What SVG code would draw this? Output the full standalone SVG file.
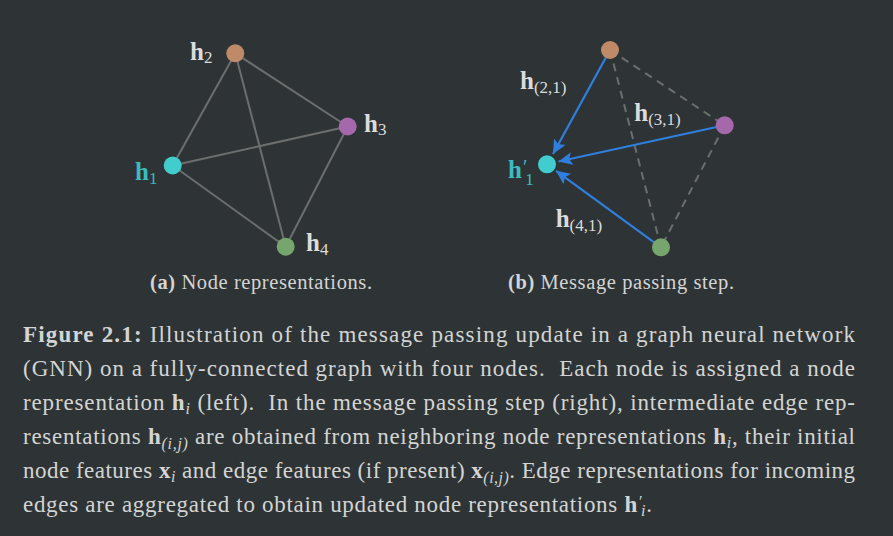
<svg xmlns="http://www.w3.org/2000/svg" width="893" height="536" viewBox="0 0 893 536">
<defs>
<style>
.bg{fill:#2e3435}
.edge{stroke:#6c6e6e;stroke-width:2;fill:none}
.dash{stroke:#6c6e6e;stroke-width:2;fill:none;stroke-dasharray:8 6}
.arrow{stroke:#2f7fdf;stroke-width:2.2;fill:none;marker-end:url(#ah)}
.lbl{font-family:"Liberation Serif",serif;fill:#dcdcdc}
.hb{font-weight:bold;font-size:25px}
.sub{font-size:17px}
.pr{font-size:20px}
.teal{fill:#3cbcbf}
.cap{font-family:"Liberation Serif",serif;font-size:23px;fill:#d4d4d4;white-space:pre}
.sc{font-family:"Liberation Serif",serif;font-size:20.5px;fill:#d4d4d4}
.b{font-weight:bold}
.i{font-style:italic;font-size:16px}
.n1{fill:#41cccd}.n2{fill:#be8a68}.n3{fill:#a468ab}.n4{fill:#76a56e}
</style>
<marker id="ah" markerUnits="userSpaceOnUse" markerWidth="16" markerHeight="14" refX="14" refY="6.5" orient="auto">
<path d="M0,0 L14,6.5 L0,13 L3,6.5 Z" fill="#2f7fdf"/>
</marker>
</defs>
<rect class="bg" x="0" y="0" width="893" height="536"/>

<g id="connectors">
<line class="edge" x1="172.7" y1="165.5" x2="235.3" y2="53.3"/>
<line class="edge" x1="172.7" y1="165.5" x2="347.7" y2="126.5"/>
<line class="edge" x1="172.7" y1="165.5" x2="285.7" y2="246.7"/>
<line class="edge" x1="235.3" y1="53.3" x2="347.7" y2="126.5"/>
<line class="edge" x1="235.3" y1="53.3" x2="285.7" y2="246.7"/>
<line class="edge" x1="347.7" y1="126.5" x2="285.7" y2="246.7"/>

<line class="dash" x1="610" y1="50" x2="724.7" y2="125.3"/>
<line class="dash" x1="610" y1="50" x2="661" y2="247.3"/>
<line class="dash" x1="724.7" y1="125.3" x2="661" y2="247.3"/>
<line class="arrow" x1="610" y1="50" x2="553" y2="154"/>
<line class="arrow" x1="724.7" y1="125.3" x2="558.5" y2="161.5"/>
<line class="arrow" x1="661" y1="247.3" x2="556" y2="170.8"/>
</g>

<g id="a-h1"><circle class="n1" cx="172.7" cy="165.5" r="9"/>
<text class="lbl teal" x="135" y="180"><tspan class="hb">h</tspan><tspan class="sub" dy="4">1</tspan></text></g>
<g id="a-h2"><circle class="n2" cx="235.3" cy="53.3" r="9"/>
<text class="lbl" x="190" y="59.5"><tspan class="hb">h</tspan><tspan class="sub" dy="3.5">2</tspan></text></g>
<g id="a-h3"><circle class="n3" cx="347.7" cy="126.5" r="9"/>
<text class="lbl" x="364" y="131.5"><tspan class="hb">h</tspan><tspan class="sub" dy="3.5">3</tspan></text></g>
<g id="a-h4"><circle class="n4" cx="285.7" cy="246.7" r="9"/>
<text class="lbl" x="306" y="251"><tspan class="hb">h</tspan><tspan class="sub" dy="3.5">4</tspan></text></g>

<g id="b-h1"><circle class="n1" cx="547" cy="164.3" r="9"/>
<text class="lbl teal" x="508" y="178"><tspan class="hb">h</tspan><tspan class="pr" dx="1" dy="-4">′</tspan><tspan class="sub" dx="-2" dy="11">1</tspan></text></g>
<g id="b-h2"><circle class="n2" cx="610" cy="50" r="9"/></g>
<g id="b-h3"><circle class="n3" cx="724.7" cy="125.3" r="9"/></g>
<g id="b-h4"><circle class="n4" cx="661" cy="247.3" r="9"/></g>

<g id="edge-labels">
<text class="lbl" x="520" y="88.5"><tspan class="hb">h</tspan><tspan class="sub" dy="4">(2,1)</tspan></text>
<text class="lbl" x="634.3" y="120.5"><tspan class="hb">h</tspan><tspan class="sub" dy="4">(3,1)</tspan></text>
<text class="lbl" x="555.7" y="227"><tspan class="hb">h</tspan><tspan class="sub" dy="4">(4,1)</tspan></text>
</g>

<g id="subcaptions">
<text class="sc" x="150" y="289" textLength="222"><tspan class="b">(a)</tspan> Node representations.</text>
<text class="sc" x="508" y="289" textLength="226"><tspan class="b">(b)</tspan> Message passing step.</text>
</g>

<g id="caption">
<text class="cap" x="23" y="342" textLength="832" lengthAdjust="spacing"><tspan class="b">Figure 2.1:</tspan> Illustration of the message passing update in a graph neural network</text>
<text class="cap" x="23" y="376" textLength="832" lengthAdjust="spacing">(GNN) on a fully-connected graph with four nodes.  Each node is assigned a node</text>
<text class="cap" x="23" y="410" textLength="832" lengthAdjust="spacing">representation <tspan class="b">h</tspan><tspan class="i" dy="4">i</tspan><tspan dy="-4"> (left).  In the message passing step (right), intermediate edge rep-</tspan></text>
<text class="cap" x="23" y="444" textLength="832" lengthAdjust="spacing">resentations <tspan class="b">h</tspan><tspan class="i" dy="5">(i,j)</tspan><tspan dy="-5"> are obtained from neighboring node representations </tspan><tspan class="b">h</tspan><tspan class="i" dy="4">i</tspan><tspan dy="-4">, their initial</tspan></text>
<text class="cap" x="23" y="478" textLength="832" lengthAdjust="spacing">node features <tspan class="b">x</tspan><tspan class="i" dy="4">i</tspan><tspan dy="-4"> and edge features (if present) </tspan><tspan class="b">x</tspan><tspan class="i" dy="5">(i,j)</tspan><tspan dy="-5">. Edge representations for incoming</tspan></text>
<text class="cap" x="23" y="512" textLength="629" lengthAdjust="spacing">edges are aggregated to obtain updated node representations <tspan class="b">h</tspan><tspan class="i" dy="-5">′</tspan><tspan class="i" dx="-1" dy="9">i</tspan><tspan dy="-4">.</tspan></text>
</g>
</svg>
